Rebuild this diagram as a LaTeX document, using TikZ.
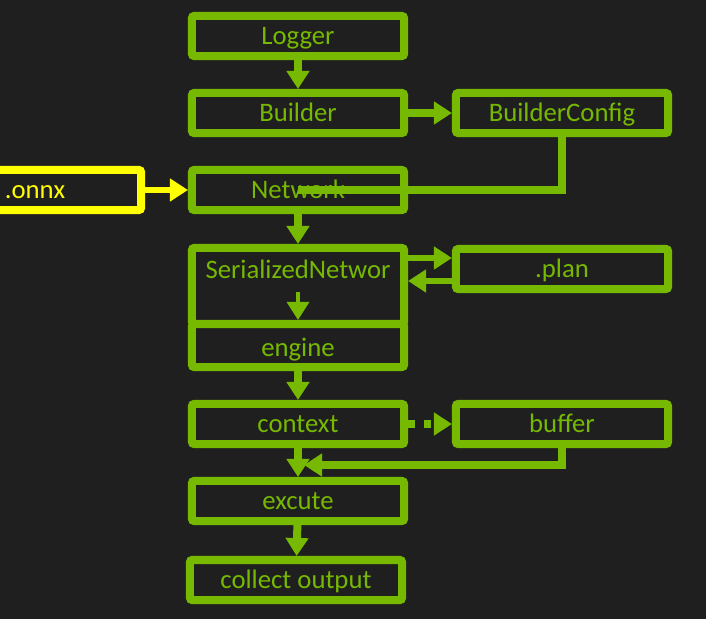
\documentclass[tikz,border=0pt]{standalone}
\usepackage{fontspec}
\setmainfont{Carlito}
\usetikzlibrary{arrows.meta}

\definecolor{nvgreen}{HTML}{76B900}
\definecolor{bggray}{HTML}{1F1F1F}
\definecolor{onnxyellow}{HTML}{FFFF00}

\tikzset{
	stagebox/.style={draw=nvgreen,line width=0.2cm,rounded corners=1.5pt,minimum width=5.3cm,minimum height=1cm,
		inner sep=0pt,text=nvgreen,font=\fontsize{19}{22}\selectfont,text height=12.2pt,text depth=0pt},
	flow/.style={draw=nvgreen,line width=0.2cm,-{Triangle[length=0.45cm,width=0.55cm]}},
}

\begin{document}
\begin{tikzpicture}[x=0.025cm,y=-0.025cm]
	\fill[bggray] (0,0) rectangle (706,619);
	\clip (0,0) rectangle (706,619);

	\node[stagebox] (logger) at (298,36) {Logger};
	\node[stagebox] (builder) at (298,113) {Builder};
	\node[stagebox] (bconfig) at (562,113) {BuilderConfig};
	\node[stagebox] (network) at (298,190) {Network};
	\node[stagebox,draw=onnxyellow,text=onnxyellow] (onnx) at (35,190) {.onnx};

	%serialized network + engine
	\node[stagebox,minimum height=1.9cm] (ser) at (298,286) {};
	\node[stagebox,draw=none] (sertext) at (298,270) {SerializedNetwor};
	\node[stagebox,minimum height=1.075cm] (engine) at (298,345.5) {};
	\node[stagebox,draw=none] (enginetext) at (298,348) {engine};
	\node[stagebox] (plan) at (562,269) {.plan};

	\node[stagebox] (context) at (298,424) {context};
	\node[stagebox] (buffer) at (562,424) {buffer};
	\node[stagebox] (excute) at (298,501) {excute};
	\node[stagebox] (collect) at (296,580) {collect output};

	\draw[flow] (logger) -- (builder);
	\draw[flow] (builder) -- (bconfig);
	\draw[draw=nvgreen,line width=0.2cm] (bconfig.south) |- (network.center);
	\draw[flow,draw=onnxyellow,line width=0.15cm] (onnx) -- (network);
	\draw[flow] (network) -- (ser);

	\draw[flow,line width=0.15cm] (ser.east |- 0,258) -- (plan.west |- 0,258);
	\draw[flow,line width=0.15cm] (plan.west |- 0,281) -- (ser.east |- 0,281);
	\coordinate (sermid) at (298,292);
	\draw[flow,line width=0.08cm] (sermid) -- (engine.north);

	\draw[flow] (engine) -- (context);
	\draw[flow,dash pattern=on 0.175cm off 0.225cm] (context) -- (buffer);
	\draw[flow] (context) -- (excute);
	\coordinate (merge) at (304,465);
	\draw[flow] (buffer.south) |- (merge);
	\draw[flow] (excute) -- (collect);
\end{tikzpicture}
\end{document}
